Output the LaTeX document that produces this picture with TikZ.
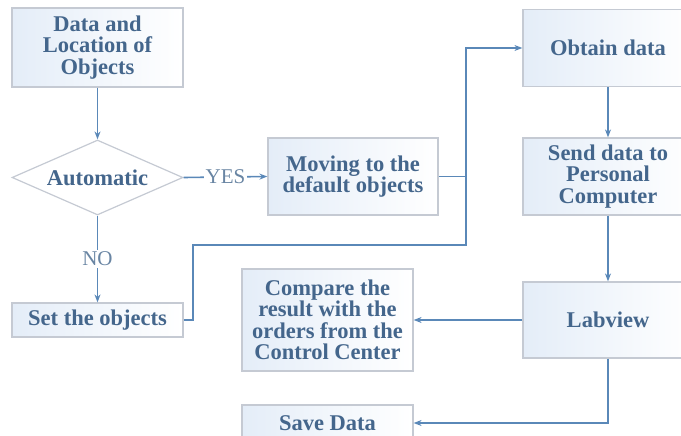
\documentclass[tikz,border=0pt]{standalone}
\usepackage{fontspec}
\setmainfont{LiberationSerif}[Extension=.ttf, UprightFont=*-Regular, BoldFont=*-Bold]
\usetikzlibrary{arrows.meta,shapes.geometric}
\definecolor{txtblue}{HTML}{44668C}
\definecolor{lineblue}{HTML}{5A88B8}
\definecolor{edgegrey}{HTML}{C5CAD3}
\definecolor{fillblue}{HTML}{E4EDF8}
\begin{document}
\begin{tikzpicture}[x=1pt, y=-1pt,
    box/.style={draw=edgegrey, line width=1.2pt, left color=fillblue, right color=white,
      text=txtblue, align=center, inner sep=2pt,
      font=\fontsize{22.5}{21.5}\selectfont\bfseries},
    decision/.style={diamond, draw=edgegrey, line width=1.2pt, fill=white, text=txtblue,
      inner sep=1pt, aspect=2.28, minimum width=171pt, minimum height=75pt,
      font=\fontsize{22.5}{21.5}\selectfont\bfseries},
    flow/.style={draw=lineblue, line width=1.6pt, -{Stealth[length=8pt,width=6pt]}},
    link/.style={draw=lineblue, line width=1.6pt},
    answer/.style={fill=white, text=txtblue!80, inner sep=2pt,
      font=\fontsize{21}{21}\selectfont}]
  \useasboundingbox (0,0) rectangle (681,436);

  % Left column
  \node[box, minimum width=171pt, minimum height=79pt] (data) at (97.5,47.5)
    {Data and\\Location of\\Objects};
  \node[decision] (auto) at (97.5,177.5) {Automatic};
  \node[box, minimum width=171pt, minimum height=34pt] (set) at (97.5,320) {Set the objects};

  % Middle column
  \node[box, minimum width=170pt, minimum height=77pt] (move) at (353,176.5)
    {Moving to the\\default objects};
  \node[box, minimum width=171pt, minimum height=102pt] (comp) at (327.5,320)
    {Compare the\\result with the\\orders from the\\Control Center};
  \node[box, minimum width=171pt, minimum height=36pt] (save) at (327.5,423) {Save Data};

  % Right column
  \node[box, minimum width=170pt, minimum height=77pt] (obtain) at (608,48) {Obtain data};
  \node[box, minimum width=170pt, minimum height=77pt] (send) at (608,176.5)
    {Send data to\\Personal\\Computer};
  \node[box, minimum width=170pt, minimum height=76pt] (lab) at (608,320) {Labview};

  % Bends of the long connector
  \coordinate (bendA) at (193,245);
  \coordinate (bendB) at (466,245);

  % Connectors
  \draw[flow] (data.south) -- (auto.north);
  \draw[flow] (auto.east) -- node[answer] {YES} (move.west);
  \draw[flow] (auto.south) -- node[answer] {NO} (set.north);
  \draw[flow] (set.east) -| (bendA) -- (bendB) |- (obtain.west);
  \draw[link] (move.east) -- (move.east -| bendB);
  \draw[flow] (obtain.south) -- (send.north);
  \draw[flow] (send.south) -- (lab.north);
  \draw[flow] (lab.west) -- (comp.east);
  \draw[flow] (lab.south) |- (save.east);
\end{tikzpicture}
\end{document}
